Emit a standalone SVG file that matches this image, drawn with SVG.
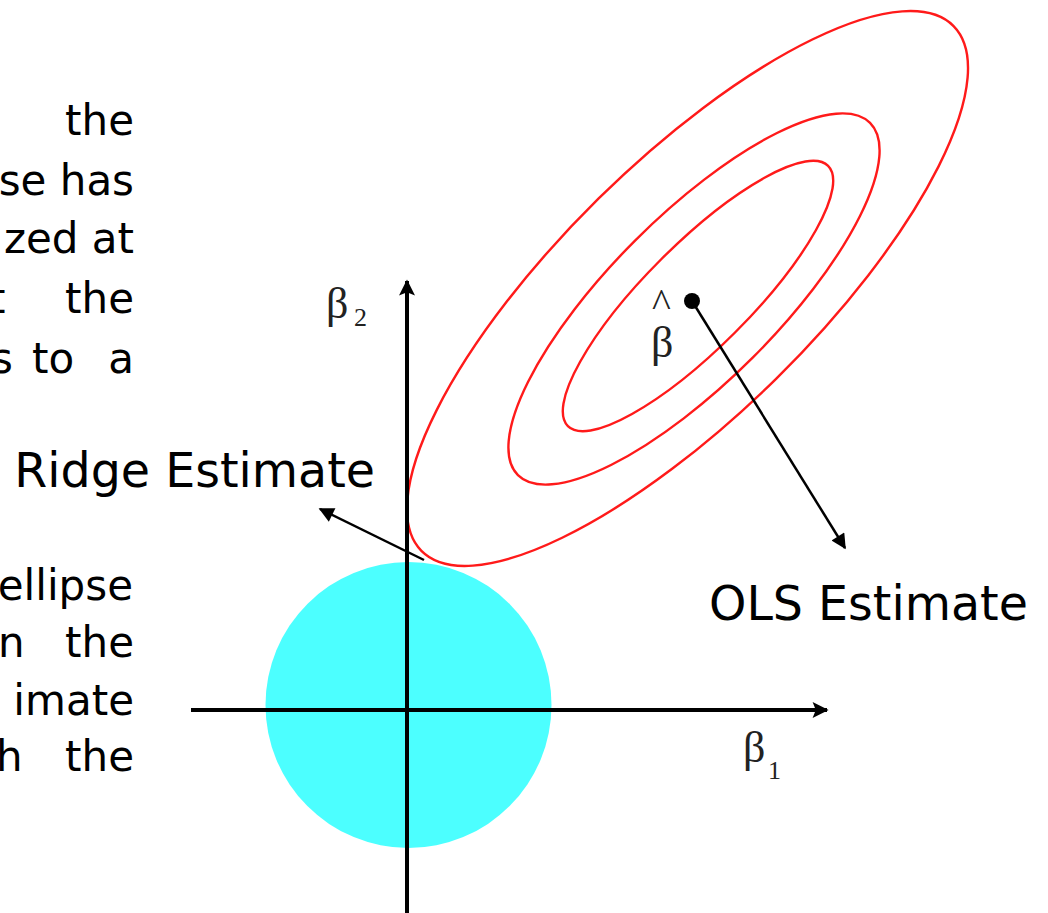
<svg xmlns="http://www.w3.org/2000/svg" width="1048" height="913" viewBox="0 0 1048 913">
<style>
.para{font-family:"DejaVu Sans","Verdana",sans-serif;font-size:42px;fill:#000}
.lbl{font-family:"DejaVu Sans","Verdana",sans-serif;font-size:47.5px;fill:#000}
.greek{font-family:"Liberation Serif","Times New Roman",serif;fill:#222}
.ell{fill:none;stroke:#ff1a1a;stroke-width:2.4}
.axis{stroke:#000;stroke-width:4;fill:none}
.conn{stroke:#000;stroke-width:2.5;fill:none}
</style>
<defs>
<marker id="ah" viewBox="0 0 10 10" refX="9" refY="5" markerWidth="7" markerHeight="6" orient="auto" markerUnits="strokeWidth">
<path d="M0,0 L10,5 L0,10 z" fill="#000"/>
</marker>
<marker id="axh" viewBox="0 0 10 10" refX="9" refY="5" markerWidth="6" markerHeight="4" orient="auto" markerUnits="strokeWidth">
<path d="M0,0 L10,5 L0,10 L2,5 z" fill="#000"/>
</marker>
</defs>
<rect width="1048" height="913" fill="#fff"/>
<g id="paragraph-top">
<text class="para" x="134" y="135" text-anchor="end">the</text>
<text class="para" x="134" y="195" text-anchor="end">se has</text>
<text class="para" x="134" y="253" text-anchor="end">zed at</text>
<text class="para" x="-11" y="313">t</text>
<text class="para" x="134" y="313" text-anchor="end">the</text>
<text class="para" x="-9" y="373">s</text>
<text class="para" x="32" y="373">to</text>
<text class="para" x="134" y="373" text-anchor="end">a</text>
</g>
<g id="paragraph-bottom">
<text class="para" x="133" y="600" text-anchor="end">ellipse</text>
<text class="para" x="-2" y="657">n</text>
<text class="para" x="134" y="657" text-anchor="end">the</text>
<text class="para" x="134" y="715" text-anchor="end">imate</text>
<text class="para" x="-4" y="771">h</text>
<text class="para" x="134" y="771" text-anchor="end">the</text>
</g>
<g id="constraint-region">
<circle cx="408.5" cy="705" r="143" fill="#4cffff"/>
</g>
<g id="contours">
<ellipse class="ell" cx="687.5" cy="288.5" rx="373.7" ry="126.5" transform="rotate(-44.6 687.5 288.5)"/>
<ellipse class="ell" cx="694" cy="299" rx="249" ry="83" transform="rotate(-45 694 299)"/>
<ellipse class="ell" cx="698" cy="296" rx="184" ry="52" transform="rotate(-45 698 296)"/>
</g>
<g id="axes">
<line class="axis" x1="191" y1="710" x2="827" y2="710" marker-end="url(#axh)"/>
<line class="axis" x1="407" y1="913" x2="407" y2="281" marker-end="url(#axh)"/>
</g>
<g id="axis-labels">
<text class="greek" x="326" y="318" font-size="44">β</text>
<text class="greek" x="354" y="326" font-size="26">2</text>
<text class="greek" x="743" y="762" font-size="44">β</text>
<text class="greek" x="768" y="779" font-size="26">1</text>
</g>
<g id="ols-point">
<circle cx="692" cy="301" r="8" fill="#000"/>
<text class="greek" x="652" y="317" font-size="40" fill="#666">^</text>
<text class="greek" x="651" y="357" font-size="44">β</text>
</g>
<g id="connectors">
<line class="conn" x1="424" y1="560" x2="320" y2="509" marker-end="url(#ah)"/>
<line class="conn" x1="692" y1="301" x2="845" y2="548" marker-end="url(#ah)"/>
</g>
<g id="labels">
<text class="lbl" x="375" y="487" text-anchor="end">Ridge Estimate</text>
<text class="lbl" x="709" y="620">OLS Estimate</text>
</g>
</svg>
